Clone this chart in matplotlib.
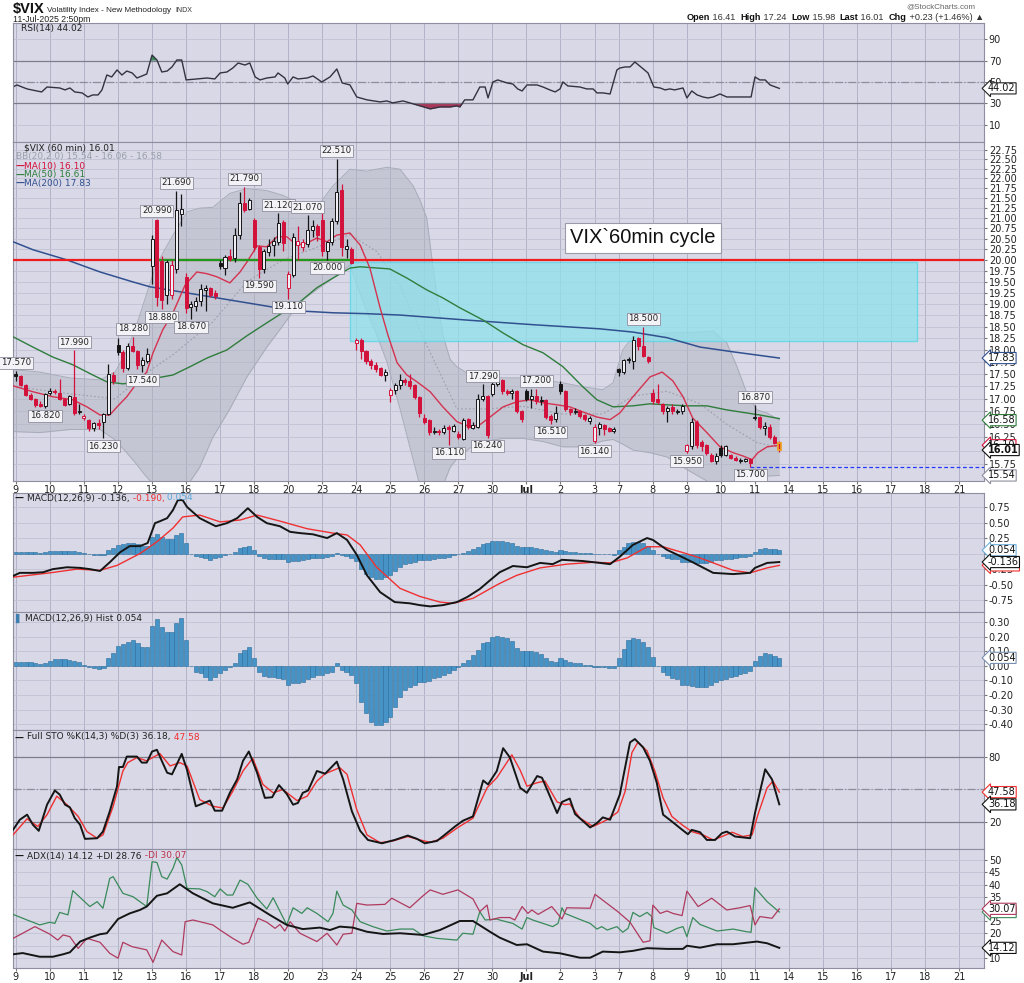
import numpy as np
import matplotlib.pyplot as plt
from matplotlib.patches import Rectangle
from matplotlib.ticker import FixedLocator, FormatStrFormatter, NullLocator

plt.rcParams['font.family'] = ['DejaVu Sans']

# ---- x axis: first hourly bar of every session ----
day_labels = ["9", "10", "11", "12", "13", "16", "17", "18", "20", "23", "24", "25", "26", "27", "30",
              "Jul", "2", "3", "7", "8", "9", "10", "11", "14", "15", "16", "17", "18", "21"]
day_start = [0, 7, 14, 21, 28, 35, 42, 49, 56, 63, 70, 77, 84, 91, 98,
             105, 112, 119, 124, 131, 138, 145, 152, 159, 166, 173, 180, 187, 194]

# ---- 60 min candles, 9-Jun .. 11-Jul ----
opens = [17.50, 17.45, 17.28, 17.08, 17.00, 16.90, 16.85,
         17.12, 17.16, 17.12, 17.00, 16.90, 17.03, 16.74,
         16.62, 16.58, 16.42, 16.52, 16.55, 16.70, 17.48,
         18.10, 17.95, 17.62, 18.08, 17.98, 17.68, 17.76,
         19.85, 20.95, 19.98, 19.20, 19.20, 19.80, 21.10,
         19.60, 18.93, 18.95, 19.05, 19.30, 19.35, 19.25,
         19.92, 19.82, 20.10, 20.05, 20.60, 21.38, 21.22,
         20.95, 20.30, 19.78, 20.18, 20.35, 20.42, 20.90,
         19.35, 19.66, 20.35, 20.30, 20.38, 20.72, 20.80,
         20.95, 20.20, 20.43, 20.92, 21.70, 20.25, 20.25,
         18.15, 18.22, 17.97, 17.77, 17.68, 17.62, 17.47,
         17.08, 17.18, 17.27, 17.38, 17.36, 17.28, 17.03,
         16.63, 16.58, 16.36, 16.38, 16.36, 16.45, 16.38,
         16.32, 16.22, 16.60, 16.43, 16.45, 17.00, 17.05,
         17.10, 17.30, 17.38, 17.16, 17.12, 17.15, 16.75,
         17.15, 17.00, 17.05, 16.95, 16.98, 16.66, 16.60,
         17.30, 17.15, 16.80, 16.74, 16.75, 16.68, 16.56,
         16.18, 16.42, 16.48, 16.43, 16.37,
         17.60, 17.55, 17.82, 17.76, 18.25, 18.08, 17.85,
         17.12, 17.00, 16.90, 16.75, 16.84, 16.74, 16.75,
         16.00, 16.08, 16.55, 16.17, 16.10, 15.92, 15.80,
         16.05, 15.92, 15.92, 15.87, 15.80, 15.80, 15.84,
         16.62, 16.64, 16.43, 16.45, 16.26, 16.15]
highs = [17.57, 17.48, 17.30, 17.12, 17.02, 16.95, 17.12,
         17.22, 17.20, 17.40, 17.02, 17.08, 17.99, 16.90,
         16.70, 16.60, 16.55, 16.60, 16.72, 17.70, 17.55,
         18.25, 18.00, 18.15, 18.28, 18.00, 17.85, 18.05,
         20.60, 20.99, 20.10, 20.00, 20.00, 21.69, 21.60,
         19.70, 19.05, 19.15, 19.45, 19.42, 19.38, 19.30,
         20.00, 20.12, 20.25, 20.75, 21.65, 21.79, 21.50,
         21.00, 20.35, 20.25, 20.50, 20.55, 21.12, 20.95,
         19.75, 20.65, 20.80, 20.50, 21.07, 20.95, 20.85,
         21.15, 20.45, 21.00, 22.51, 21.85, 20.50, 20.30,
         18.25, 18.25, 18.00, 17.80, 17.75, 17.65, 17.60,
         17.22, 17.32, 17.50, 17.42, 17.50, 17.30, 17.05,
         16.70, 16.60, 16.45, 16.40, 16.48, 16.48, 16.50,
         16.38, 16.62, 16.62, 16.55, 17.10, 17.29, 17.08,
         17.35, 17.45, 17.40, 17.20, 17.20, 17.18, 16.78,
         17.20, 17.20, 17.20, 17.05, 17.00, 16.70, 16.85,
         17.35, 17.18, 16.82, 16.82, 16.78, 16.70, 16.66,
         16.50, 16.55, 16.50, 16.45, 16.45,
         17.62, 17.80, 17.85, 18.30, 18.28, 18.50, 17.88,
         17.20, 17.30, 16.92, 16.85, 16.90, 16.80, 16.90,
         16.12, 16.62, 16.58, 16.20, 16.12, 15.95, 15.95,
         16.10, 16.10, 15.94, 15.90, 15.86, 15.86, 15.86,
         16.87, 16.66, 16.55, 16.50, 16.30, 16.18]
lows = [17.35, 17.25, 17.05, 16.97, 16.83, 16.84, 16.82,
        17.08, 17.10, 16.98, 16.85, 16.88, 16.68, 16.70,
        16.58, 16.38, 16.38, 16.40, 16.23, 16.68, 17.30,
        17.90, 17.55, 17.58, 17.95, 17.60, 17.54, 17.72,
        19.45, 18.95, 18.88, 19.00, 19.10, 19.70, 20.80,
        18.80, 18.67, 18.85, 18.95, 18.85, 19.15, 19.10,
        19.80, 19.65, 19.98, 19.95, 20.50, 21.15, 21.20,
        20.20, 19.59, 19.70, 20.10, 20.10, 20.35, 20.20,
        19.11, 19.60, 20.00, 20.20, 20.30, 20.55, 20.45,
        20.10, 20.00, 20.35, 20.85, 20.10, 20.05, 19.90,
        18.00, 17.80, 17.70, 17.60, 17.55, 17.45, 17.35,
        16.93, 17.10, 17.20, 17.28, 17.20, 17.00, 16.65,
        16.50, 16.30, 16.32, 16.30, 16.32, 16.11, 16.35,
        16.22, 16.20, 16.40, 16.40, 16.42, 16.95, 16.24,
        17.05, 17.25, 17.10, 17.08, 17.00, 16.72, 16.55,
        16.95, 16.82, 16.90, 16.88, 16.60, 16.51, 16.55,
        17.10, 16.75, 16.68, 16.70, 16.62, 16.56, 16.50,
        16.14, 16.30, 16.30, 16.35, 16.33,
        17.45, 17.50, 17.72, 17.60, 18.00, 17.85, 17.72,
        16.90, 16.90, 16.70, 16.55, 16.70, 16.70, 16.70,
        15.95, 16.02, 16.05, 16.00, 15.92, 15.78, 15.75,
        15.88, 15.90, 15.84, 15.80, 15.77, 15.78, 15.70,
        16.58, 16.40, 16.30, 16.22, 16.12, 15.98]
closes = [17.45, 17.28, 17.08, 17.00, 16.87, 16.86, 17.10,
          17.16, 17.14, 17.00, 16.88, 17.05, 16.72, 16.76,
          16.66, 16.42, 16.52, 16.48, 16.70, 17.50, 17.35,
          17.95, 17.62, 18.08, 17.98, 17.68, 17.78, 17.92,
          20.50, 19.15, 19.08, 19.95, 19.88, 21.20, 21.22,
          18.90, 18.99, 19.07, 19.32, 19.35, 19.20, 19.17,
          19.86, 20.08, 20.02, 20.60, 21.37, 21.20, 21.45,
          20.30, 19.78, 20.20, 20.32, 20.45, 20.88, 20.40,
          19.68, 20.55, 20.45, 20.42, 20.72, 20.82, 20.60,
          20.20, 20.42, 20.92, 21.66, 20.30, 20.32, 19.93,
          18.20, 17.97, 17.77, 17.68, 17.60, 17.48, 17.55,
          17.18, 17.27, 17.37, 17.33, 17.25, 17.03, 16.72,
          16.55, 16.35, 16.38, 16.36, 16.43, 16.40, 16.46,
          16.26, 16.58, 16.45, 16.48, 17.00, 17.05, 16.30,
          17.30, 17.38, 17.15, 17.12, 17.15, 16.75, 16.60,
          17.00, 17.06, 16.95, 16.98, 16.65, 16.58, 16.72,
          17.15, 16.80, 16.73, 16.76, 16.67, 16.60, 16.63,
          16.45, 16.50, 16.40, 16.37, 16.41,
          17.55, 17.78, 17.79, 18.20, 18.08, 17.88, 17.76,
          16.95, 16.93, 16.75, 16.82, 16.75, 16.76, 16.85,
          16.10, 16.55, 16.10, 16.08, 15.96, 15.80, 15.90,
          15.92, 16.08, 15.87, 15.82, 15.83, 15.84, 15.76,
          16.64, 16.44, 16.46, 16.25, 16.15, 16.01]

# labelled swing highs / lows (bar numbers)
hi_bars = [0, 12, 24, 29, 33, 47, 54, 60, 66, 96, 107, 129, 152]
lo_bars = [6, 18, 26, 30, 36, 50, 56, 64, 89, 97, 110, 119, 138, 151]

# ---- overlays (bar number, value) ----
ma10_t = [-0.6, 3.5, 7.6, 11.7, 14.6, 17.3, 19.3, 20.8, 22.8, 24.9, 26.9, 28.2, 30.2, 32.3, 34.8,
          37.2, 39.3, 41.3, 44.0, 46.1, 47.5, 49.6, 51.6, 53.7, 55.7, 57.8, 59.9, 61.9, 64.0, 66.0,
          68.7, 70.8, 72.8, 74.9, 76.5, 78.4, 80.4, 82.5, 85.2, 87.8, 90.7, 93.4, 95.4, 97.5, 100.2,
          103.0, 105.7, 108.4, 111.3, 113.9, 116.6, 119.5, 122.2, 124.2, 126.9, 130.4, 132.9, 135.1,
          137.2, 139.2, 142.1, 144.8, 147.5, 149.5, 151.4, 152.6, 154.5, 157.0]
ma10_v = [17.26, 17.14, 17.04, 16.98, 16.84, 16.68, 16.68, 16.84, 17.04, 17.32, 17.54, 17.94, 18.43,
          18.80, 19.42, 19.72, 19.68, 19.61, 19.47, 19.72, 19.95, 20.33, 20.31, 20.55, 20.55, 20.35,
          20.40, 20.52, 20.43, 20.59, 20.64, 20.35, 19.81, 18.91, 18.32, 17.73, 17.48, 17.34, 17.14,
          16.84, 16.55, 16.45, 16.49, 16.64, 16.84, 16.94, 16.98, 16.92, 16.88, 16.84, 16.74, 16.64,
          16.59, 16.72, 17.04, 17.44, 17.54, 17.36, 17.04, 16.62, 16.34, 16.07, 15.96, 15.90, 15.83,
          15.96, 16.07, 16.10]
ma50_t = [-0.6, 3.5, 7.6, 11.7, 15.8, 18.7, 22.0, 25.5, 29.0, 32.3, 35.8, 39.3, 43.4, 47.5, 51.6,
          55.7, 58.4, 61.9, 65.2, 68.7, 70.8, 76.9, 80.4, 84.5, 87.8, 91.3, 96.1, 100.2, 104.3, 108.4,
          112.5, 116.6, 119.5, 122.8, 126.9, 130.4, 133.9, 138.0, 142.1, 146.2, 150.3, 153.0, 157.0]
ma50_v = [18.28, 18.06, 17.85, 17.69, 17.48, 17.34, 17.30, 17.34, 17.42, 17.48, 17.65, 17.83, 18.00,
          18.30, 18.58, 18.86, 19.04, 19.36, 19.58, 19.81, 19.84, 19.79, 19.58, 19.31, 19.13, 18.91,
          18.64, 18.36, 18.11, 17.94, 17.65, 17.24, 16.98, 16.84, 16.86, 16.90, 16.88, 16.86, 16.86,
          16.78, 16.72, 16.68, 16.61]
ma200_t = [-0.6, 3.5, 10.5, 17.3, 24.1, 27.6, 53.7, 58.4, 65.2, 72.2, 79.0, 92.8, 106.3, 120.1,
           126.9, 133.9, 140.7, 147.5, 157.0]
ma200_v = [20.43, 20.24, 20.00, 19.72, 19.49, 19.38, 18.91, 18.84, 18.80, 18.78, 18.75, 18.64, 18.54,
           18.45, 18.38, 18.26, 18.06, 17.96, 17.83]
bb_t = [-0.6, 4.9, 11.1, 17.3, 20.4, 22.4, 24.5, 26.5, 28.6, 30.6, 32.3, 35.2, 37.8, 40.5, 44.0,
        47.5, 51.6, 54.9, 58.4, 61.9, 65.2, 68.7, 70.1, 72.2, 74.2, 76.3, 79.0, 81.7, 83.1, 84.5,
        85.8, 87.8, 89.3, 90.7, 93.4, 96.9, 100.2, 104.3, 108.4, 112.5, 116.6, 120.7, 122.8, 124.8,
        126.9, 130.4, 133.9, 137.2, 140.7, 143.4, 146.2, 148.3, 150.3, 152.4, 154.5, 157.0]
bb_up = [17.59, 17.54, 17.42, 17.38, 17.54, 17.90, 18.43, 19.09, 19.81, 20.24, 20.59, 21.16, 21.25,
         21.27, 21.62, 21.74, 21.69, 21.57, 21.37, 21.27, 21.81, 22.24, 22.22, 22.19, 22.24, 22.29,
         22.24, 21.81, 21.45, 21.00, 19.81, 18.32, 17.80, 17.65, 17.48, 17.44, 17.42, 17.42, 17.38,
         17.32, 17.24, 17.18, 17.32, 18.00, 18.28, 18.33, 18.36, 18.37, 18.38, 18.40, 18.15, 17.65,
         17.12, 16.78, 16.72, 16.58]
bb_lo = [16.36, 16.34, 16.40, 16.40, 16.20, 16.00, 15.78, 15.55, 15.35, 15.35, 15.35, 15.35, 15.69,
         16.25, 16.80, 17.44, 18.06, 18.52, 19.04, 19.32, 19.58, 19.88, 19.42, 18.82, 18.32, 17.75,
         16.80, 15.83, 15.35, 15.35, 15.35, 15.35, 15.69, 15.85, 16.05, 16.18, 16.23, 16.23, 16.17,
         16.07, 16.07, 16.18, 16.21, 16.12, 16.01, 15.96, 15.88, 15.69, 15.51, 15.38, 15.38, 15.42,
         15.48, 15.51, 15.53, 15.54]
bb_mid_t = [-0.6, 11.1, 20.4, 24.1, 26.5, 32.3, 40.5, 47.5, 54.9, 61.9, 68.7, 74.2, 79.0, 84.5,
            90.7, 96.9, 104.3, 112.5, 120.7, 126.9, 133.9, 140.7, 146.2, 152.4, 157.0]
bb_mid_v = [17.25, 17.10, 17.00, 17.30, 17.50, 17.90, 18.60, 19.50, 20.00, 20.30, 20.60, 20.20,
            19.40, 18.10, 16.80, 16.80, 16.85, 16.70, 16.70, 17.05, 17.15, 16.90, 16.50, 16.15, 16.06]

# cycle box and reference levels
zone_start, zone_end = 68.7, 185.3
zone_low, zone_high = 18.19, 19.95
level_20 = 20.00
support_start, support_end = 28, 69
recent_low, recent_low_bar = 15.70, 151
note_bar, note_price = 114, 20.52

# ---- RSI(14) ----
rsi_t = [-0.6, 0.2, 2.3, 4.3, 5.3, 6.4, 9.0, 10.1, 11.1, 12.1, 13.6, 14.8, 15.8, 16.9, 17.7, 18.7,
         19.7, 20.8, 21.8, 22.8, 23.9, 24.9, 26.9, 28.0, 29.0, 30.0, 31.1, 32.1, 33.1, 34.1, 35.0,
         37.2, 39.3, 40.9, 42.0, 43.4, 44.6, 45.7, 47.1, 48.1, 49.2, 50.2, 51.6, 53.3, 53.9, 55.3,
         55.9, 57.0, 58.0, 59.9, 61.1, 62.9, 64.6, 66.0, 67.1, 68.7, 70.1, 72.2, 74.9, 76.3, 77.5,
         79.6, 81.0, 83.1, 85.2, 87.2, 89.3, 90.7, 91.3, 92.3, 94.0, 95.4, 96.5, 97.1, 98.1, 99.1,
         101.0, 102.2, 103.2, 104.1, 105.1, 107.2, 108.4, 109.8, 110.9, 111.9, 112.5, 113.5, 116.0,
         117.4, 118.7, 119.5, 120.7, 122.2, 123.6, 124.2, 125.3, 126.3, 127.3, 128.8, 130.0, 131.2,
         132.5, 133.5, 134.5, 135.5, 137.2, 138.0, 139.0, 140.1, 141.3, 142.3, 143.4, 144.8, 146.2,
         147.5, 148.9, 151.2, 152.0, 153.0, 154.1, 155.1, 157.0]
rsi_v = [45.3, 47.2, 43.5, 41.6, 40.7, 45.3, 44.4, 42.6, 44.4, 40.7, 39.8, 36.0, 37.9, 37.9, 42.6,
         56.5, 54.7, 61.2, 56.5, 60.2, 58.4, 53.7, 57.4, 75.1, 70.5, 59.3, 60.2, 64.0, 70.5, 70.5,
         51.9, 52.8, 53.7, 52.8, 58.4, 59.3, 63.0, 67.7, 65.8, 67.7, 54.7, 51.9, 53.7, 54.7, 58.4,
         53.7, 48.1, 54.7, 52.8, 53.7, 55.6, 50.0, 54.7, 62.1, 49.1, 47.2, 36.0, 33.3, 31.4, 32.3,
         30.5, 32.3, 30.5, 27.7, 24.9, 26.7, 26.7, 27.7, 26.7, 33.3, 33.3, 45.3, 45.3, 35.1, 50.0,
         51.9, 49.1, 48.1, 43.5, 41.6, 47.2, 47.2, 45.3, 42.6, 40.7, 43.5, 50.0, 46.3, 45.3, 43.5,
         43.5, 39.8, 39.8, 38.8, 61.2, 63.0, 64.0, 64.0, 68.6, 63.0, 58.4, 45.3, 44.4, 42.6, 43.5,
         42.6, 44.4, 35.1, 41.6, 37.9, 36.0, 35.1, 36.0, 38.8, 36.0, 36.0, 36.0, 36.0, 54.7, 51.9,
         51.9, 47.2, 44.02]

# ---- MACD(12,26,9) ----
macd_t = [-0.6, 0.8, 3.5, 5.6, 7.6, 10.5, 13.2, 15.2, 17.3, 19.3, 21.4, 23.4, 25.5, 27.1, 28.6, 29.6,
          31.1, 32.3, 33.3, 34.3, 35.2, 37.8, 41.1, 43.4, 45.5, 47.7, 49.6, 51.6, 54.3, 56.4, 58.4,
          61.1, 64.0, 66.0, 68.1, 70.1, 72.2, 74.9, 77.9, 81.0, 83.1, 85.2, 87.8, 90.7, 92.8, 95.4,
          97.5, 99.5, 102.2, 105.1, 107.8, 110.4, 112.3, 116.6, 120.1, 122.2, 124.2, 126.9, 129.8,
          131.0, 133.9, 136.6, 139.2, 143.4, 147.5, 151.0, 152.0, 154.5, 157.0]
macd_v = [-0.36, -0.31, -0.31, -0.30, -0.25, -0.22, -0.23, -0.25, -0.28, -0.14, 0.02, 0.12, 0.12,
          0.17, 0.49, 0.52, 0.57, 0.70, 0.86, 0.86, 0.75, 0.57, 0.44, 0.49, 0.57, 0.73, 0.59, 0.49,
          0.44, 0.35, 0.33, 0.31, 0.25, 0.33, 0.22, -0.02, -0.35, -0.62, -0.78, -0.80, -0.83, -0.85,
          -0.83, -0.78, -0.70, -0.57, -0.43, -0.30, -0.20, -0.22, -0.15, -0.17, -0.10, -0.12, -0.15,
          -0.17, -0.05, 0.14, 0.25, 0.22, 0.06, -0.04, -0.14, -0.31, -0.33, -0.31, -0.23, -0.15,
          -0.136]
signal_t = [-0.6, 7.0, 12.5, 17.3, 20.8, 25.5, 29.0, 32.3, 34.3, 37.8, 42.0, 46.1, 49.6, 54.9,
            59.9, 65.2, 68.1, 70.8, 74.2, 79.0, 83.1, 87.2, 89.9, 94.0, 98.1, 99.5, 103.0, 107.8,
            113.3, 118.7, 122.2, 125.7, 129.8, 133.1, 137.0, 140.7, 147.5, 151.0, 154.5, 157.0]
signal_v = [-0.38, -0.31, -0.25, -0.27, -0.19, 0.00, 0.19, 0.41, 0.59, 0.62, 0.51, 0.54, 0.62, 0.51,
            0.40, 0.33, 0.30, 0.14, -0.22, -0.56, -0.69, -0.78, -0.80, -0.72, -0.54, -0.48, -0.35,
            -0.23, -0.17, -0.14, -0.15, -0.07, 0.11, 0.11, 0.02, -0.07, -0.27, -0.31, -0.23, -0.19]
hist = [0.023, 0.025, 0.025, 0.023, 0.020, 0.014, 0.020,
        0.034, 0.046, 0.046, 0.043, 0.039, 0.034, 0.023,
        0.005, -0.007, -0.016, -0.023, -0.016, 0.050, 0.085,
        0.135, 0.149, 0.165, 0.176, 0.153, 0.130, 0.126,
        0.272, 0.318, 0.268, 0.233, 0.233, 0.295, 0.330,
        0.176, 0.000, -0.041, -0.053, -0.076, -0.098, -0.076,
        -0.048, -0.030, -0.012, 0.021, 0.085, 0.108, 0.126,
        0.055, -0.041, -0.071, -0.080, -0.080, -0.087, -0.094,
        -0.133, -0.121, -0.117, -0.110, -0.094, -0.076, -0.064,
        -0.064, -0.053, -0.041, 0.016, -0.030, -0.041, -0.064,
        -0.121, -0.247, -0.327, -0.384, -0.407, -0.407, -0.384,
        -0.350, -0.281, -0.213, -0.167, -0.144, -0.133, -0.110,
        -0.110, -0.103, -0.087, -0.076, -0.064, -0.048, -0.030,
        -0.007, 0.016, 0.039, 0.073, 0.108, 0.153, 0.165,
        0.199, 0.204, 0.195, 0.188, 0.170, 0.120, 0.100,
        0.100, 0.100, 0.092, 0.080, 0.050, 0.034, 0.027,
        0.050, 0.039, 0.027, 0.021, 0.016, 0.007, 0.002,
        -0.009, -0.011, -0.011, -0.014, -0.018,
        0.055, 0.112, 0.176, 0.188, 0.181, 0.165, 0.130,
        0.057, -0.002, -0.041, -0.064, -0.087, -0.089, -0.133,
        -0.133, -0.140, -0.144, -0.144, -0.144, -0.135, -0.110,
        -0.098, -0.089, -0.080, -0.069, -0.057, -0.048, -0.039,
        0.030, 0.069, 0.085, 0.078, 0.069, 0.054]

# ---- Full STO %K(14,3) %D(3) ----
stok_t = [-0.6, 0.8, 2.3, 3.5, 4.7, 6.4, 8.0, 9.0, 10.1, 11.1, 12.1, 13.2, 14.2, 16.7, 17.9, 19.3,
          20.8, 21.2, 22.0, 22.8, 24.9, 25.9, 26.9, 28.0, 29.0, 30.0, 31.1, 32.1, 34.1, 35.2, 37.0,
          39.9, 40.9, 42.4, 44.0, 45.5, 46.7, 47.9, 49.6, 51.2, 52.7, 54.1, 55.7, 57.0, 58.0, 59.0,
          60.1, 61.9, 63.6, 66.0, 67.3, 69.1, 70.8, 72.4, 75.3, 77.9, 80.6, 82.5, 84.1, 86.6, 88.6,
          90.3, 91.9, 94.0, 96.1, 97.1, 98.9, 100.2, 101.6, 103.7, 105.1, 107.2, 108.2, 111.3, 112.3,
          113.9, 115.0, 118.1, 119.5, 120.7, 122.2, 124.2, 126.3, 127.3, 129.0, 130.4, 131.8, 133.1,
          134.9, 136.6, 138.2, 139.0, 140.7, 142.1, 143.8, 145.2, 146.2, 147.9, 151.0, 152.0, 154.1,
          155.5, 157.0]
stok_v = [12.5, 21.9, 26.6, 17.2, 11.6, 35.9, 49.1, 45.3, 35.9, 33.4, 23.4, 17.2, 4.1, 4.7, 10.9,
          29.7, 53.1, 70.9, 70.9, 80.6, 80.6, 75.0, 75.0, 85.3, 86.9, 76.6, 65.6, 64.1, 83.1, 68.1,
          34.4, 39.7, 30.3, 30.3, 46.9, 59.4, 76.6, 85.3, 65.6, 42.2, 42.8, 54.1, 45.9, 35.9, 37.5,
          46.9, 49.1, 67.2, 64.7, 75.9, 59.4, 29.7, 11.6, 3.1, 0.0, 3.1, 7.2, 4.1, 0.0, 2.2, 9.4,
          15.6, 20.9, 25.0, 58.4, 54.7, 67.2, 88.4, 79.7, 51.6, 46.9, 62.5, 60.9, 28.1, 38.4, 41.6,
          27.2, 14.7, 18.8, 24.1, 21.9, 45.3, 93.8, 96.9, 89.1, 76.6, 56.3, 26.6, 20.3, 14.1, 8.4,
          12.5, 10.3, 3.1, 3.1, 9.4, 10.9, 6.3, 4.7, 28.1, 68.8, 59.4, 36.18]
stod_t = [-0.6, 2.3, 4.5, 6.4, 8.4, 10.5, 12.8, 14.6, 16.7, 17.9, 20.0, 22.0, 23.0, 24.9, 26.9,
          29.6, 31.7, 33.7, 35.2, 37.8, 40.5, 42.6, 44.6, 46.7, 48.7, 50.8, 52.9, 54.9, 57.8, 59.9,
          61.9, 63.6, 66.6, 68.1, 70.1, 72.2, 74.9, 77.5, 80.6, 83.1, 85.2, 87.8, 90.7, 94.0, 96.9,
          98.9, 102.0, 103.7, 105.1, 107.2, 108.8, 111.3, 112.9, 113.9, 116.0, 118.7, 121.6, 123.8,
          125.3, 126.7, 127.9, 129.8, 131.4, 133.1, 134.9, 137.0, 139.0, 141.3, 143.4, 145.2, 147.3,
          149.5, 151.4, 152.6, 154.5, 155.7, 157.0]
stod_v = [7.8, 22.8, 15.6, 26.6, 43.8, 35.9, 25.0, 10.9, 4.7, 7.8, 34.4, 67.2, 75.0, 79.7, 76.6,
          83.4, 71.9, 75.0, 71.9, 40.6, 34.4, 32.8, 48.4, 67.2, 79.1, 54.7, 46.9, 50.0, 39.7, 43.8,
          57.8, 64.7, 70.3, 64.1, 31.3, 7.8, 0.6, 2.2, 6.3, 3.1, 0.9, 4.7, 14.1, 23.4, 51.6, 60.9,
          82.2, 68.0, 53.1, 56.3, 57.8, 38.4, 35.9, 36.6, 23.4, 15.6, 21.9, 29.1, 48.4, 84.4, 93.8,
          85.9, 67.2, 42.2, 25.0, 17.2, 10.9, 7.8, 3.1, 6.3, 10.3, 6.3, 7.8, 26.6, 51.6, 57.8, 47.58]

# ---- ADX(14) ----
adx_t = [-0.6, 1.4, 4.9, 7.6, 9.7, 11.1, 13.2, 15.2, 17.3, 18.7, 21.0, 23.4, 25.5, 26.9, 29.0,
         31.1, 33.7, 36.4, 40.5, 44.6, 48.1, 52.2, 55.7, 59.0, 62.5, 64.6, 66.6, 69.3, 72.2, 75.5,
         79.0, 83.7, 87.2, 91.3, 94.0, 97.5, 99.5, 103.0, 105.1, 108.4, 111.9, 116.0, 118.1, 120.7,
         124.2, 126.9, 129.8, 133.9, 137.2, 138.0, 140.7, 144.2, 147.5, 152.4, 154.5, 157.0]
adx_v = [11.5, 12.0, 10.5, 10.5, 11.5, 12.3, 16.7, 18.3, 19.7, 20.1, 25.9, 28.2, 29.6, 31.0, 35.4,
         36.4, 40.1, 36.4, 32.3, 30.5, 32.7, 27.6, 23.5, 21.8, 22.4, 21.4, 22.8, 22.4, 20.7, 19.8,
         20.1, 19.4, 21.4, 25.1, 25.1, 20.7, 18.3, 15.3, 15.6, 12.6, 11.9, 10.1, 10.1, 12.6, 12.3,
         12.9, 14.0, 13.7, 13.7, 15.0, 14.2, 15.6, 15.6, 16.7, 16.0, 14.12]
pdi_t = [-0.6, 2.3, 4.9, 7.0, 8.0, 9.0, 10.7, 11.7, 15.2, 16.7, 17.9, 19.3, 20.0, 22.0, 24.1, 26.9,
         28.0, 29.0, 30.0, 31.1, 32.3, 33.1, 34.1, 35.2, 37.8, 39.3, 40.9, 42.0, 43.4, 44.6, 46.1,
         47.7, 49.6, 51.6, 52.9, 55.7, 57.0, 58.8, 59.9, 61.9, 64.2, 65.2, 66.0, 67.3, 69.1, 70.8,
         73.4, 76.3, 79.0, 81.7, 83.7, 86.6, 90.7, 91.9, 94.0, 95.4, 96.5, 98.9, 99.5, 102.2, 104.1,
         105.1, 106.3, 110.4, 111.5, 112.3, 112.9, 115.4, 118.1, 119.5, 120.5, 121.6, 123.6, 124.8,
         125.9, 126.9, 128.3, 129.8, 130.8, 131.2, 133.9, 136.0, 137.2, 138.0, 139.2, 140.7, 144.2,
         147.5, 150.3, 151.2, 152.0, 154.5, 157.0]
pdi_v = [27.8, 25.5, 23.5, 24.6, 24.1, 28.6, 27.6, 37.5, 31.0, 33.0, 30.3, 42.5, 43.2, 36.4, 35.0,
         31.0, 49.3, 49.0, 43.2, 42.2, 46.6, 51.0, 48.0, 38.4, 38.2, 37.1, 35.0, 38.2, 35.7, 35.7,
         41.8, 40.1, 34.4, 30.0, 34.6, 23.5, 30.5, 28.2, 30.5, 28.2, 24.8, 28.2, 37.3, 31.6, 29.6,
         24.8, 22.8, 21.0, 21.8, 21.8, 19.1, 18.0, 17.3, 20.1, 19.7, 28.9, 25.5, 25.9, 25.5, 24.1,
         21.8, 26.5, 25.5, 22.8, 24.1, 30.5, 28.2, 26.2, 24.1, 21.8, 22.8, 21.4, 22.8, 20.5, 22.1,
         28.6, 26.9, 28.6, 26.9, 22.4, 20.1, 22.1, 22.8, 18.7, 26.5, 23.7, 21.0, 21.8, 20.7, 20.5,
         38.7, 33.0, 28.76]
mdi_t = [-0.6, 1.4, 3.9, 7.0, 8.6, 9.7, 11.1, 12.8, 14.6, 17.3, 19.3, 21.0, 22.0, 23.9, 26.9, 28.2,
         30.0, 32.3, 34.1, 34.8, 36.4, 40.5, 42.0, 44.6, 46.7, 47.9, 49.8, 51.6, 53.3, 54.3, 55.3,
         56.4, 58.4, 61.9, 64.0, 66.0, 67.3, 69.1, 70.1, 72.2, 75.9, 77.3, 81.0, 83.5, 85.2, 87.8,
         90.9, 94.0, 95.4, 96.9, 97.5, 99.5, 101.6, 102.6, 104.1, 105.3, 106.1, 107.4, 110.2, 112.3,
         113.3, 118.1, 119.1, 123.8, 126.3, 129.0, 130.4, 131.0, 132.5, 133.9, 135.1, 137.0, 138.0,
         140.3, 143.1, 146.2, 148.9, 151.0, 152.0, 153.0, 155.5, 157.0]
mdi_v = [18.0, 20.1, 22.8, 19.7, 17.3, 19.4, 18.7, 13.9, 18.0, 16.4, 11.9, 9.9, 16.4, 14.6, 13.3,
         8.2, 17.3, 12.6, 11.2, 24.8, 25.5, 23.5, 21.4, 18.0, 15.6, 16.4, 26.2, 24.6, 22.1, 23.7,
         21.0, 24.8, 20.1, 16.7, 20.1, 15.3, 19.7, 20.1, 32.3, 31.6, 31.9, 34.4, 30.5, 35.0, 37.8,
         36.0, 37.8, 34.1, 28.9, 31.6, 25.5, 26.5, 26.5, 25.5, 31.0, 28.2, 29.6, 27.8, 31.0, 25.9,
         30.5, 30.3, 36.0, 28.9, 24.6, 16.4, 17.0, 31.6, 28.2, 29.2, 28.2, 27.3, 37.3, 31.0, 34.4,
         29.6, 30.5, 31.4, 23.5, 26.9, 26.2, 30.07]

# ---------------------------------------------------------------------------
BG = '#d8d8e7'
RED = '#d3123c'
GREEN = '#2f7d3c'
NAVY = '#31508f'
FW, FH = 1024, 983
X0, X1 = 13, 984

fig = plt.figure(figsize=(10.24, 9.83), dpi=100)


def panel(top, bottom):
    ax = fig.add_axes([X0 / FW, 1 - bottom / FH, (X1 - X0) / FW, (bottom - top) / FH])
    ax.set_facecolor(BG)
    ax.set_xlim(-0.6, 199.1)
    for s in ax.spines.values():
        s.set_color('#8e8ea0')
        s.set_linewidth(0.8)
    ax.yaxis.tick_right()
    ax.tick_params(axis='y', which='both', length=2, pad=1.5, labelsize=7,
                   color='#777', labelcolor='#222')
    ax.set_xticks(day_start)
    ax.tick_params(axis='x', length=0, labelbottom=False)
    ax.grid(axis='x', color='#b2b2c6', lw=0.7)
    ax.grid(axis='y', color='#c2c2d4', lw=0.6)
    ax.set_axisbelow(True)
    return ax


def date_labels(ax):
    ax.set_xticklabels(day_labels)
    ax.tick_params(axis='x', labelbottom=True, length=2, pad=1, labelsize=7,
                   color='#777', labelcolor='#222')
    for lab in ax.get_xticklabels():
        if lab.get_text() == 'Jul':
            lab.set_fontweight('bold')


def tag(ax, v, txt, ec, bold=False):
    ax.text(1.004, v, txt, transform=ax.get_yaxis_transform(), ha='left', va='center',
            fontsize=7, fontweight='bold' if bold else 'normal', color='#111', clip_on=False,
            zorder=30, bbox=dict(boxstyle='larrow,pad=0.06', fc='white', ec=ec, lw=0.8))


rsi_ax = panel(23, 142)
px_ax = panel(142, 481)
macd_ax = panel(493, 612)
hist_ax = panel(612, 730)
sto_ax = panel(730, 849)
adx_ax = panel(849, 968)

# ---- RSI ----
rsi_ax.set_ylim(-6, 105)
rsi_ax.yaxis.set_major_locator(FixedLocator([10, 30, 50, 70, 90]))
rsi_ax.axhline(70, color='#7c7c8c', lw=0.9)
rsi_ax.axhline(30, color='#7c7c8c', lw=0.9)
rsi_ax.axhline(50, color='#8c8c9c', lw=0.9, ls='-.')
rt, rv = np.array(rsi_t), np.array(rsi_v)
rsi_ax.fill_between(rt, rv, 70, where=rv > 70, interpolate=True, color='#3a8a5a', lw=0)
rsi_ax.fill_between(rt, rv, 30, where=rv < 30, interpolate=True, color='#a8385a', lw=0)
rsi_ax.plot(rt, rv, color='#333340', lw=1.0)
tag(rsi_ax, 44.02, '44.02', '#222')

# ---- price ----
px_ax.set_yscale('log')
px_ax.set_ylim(15.44, 22.96)
px_ticks = list(np.arange(15.75, 22.76, 0.25))
px_ax.yaxis.set_major_locator(FixedLocator(px_ticks))
px_ax.yaxis.set_major_formatter(FormatStrFormatter('%.2f'))
px_ax.yaxis.set_minor_locator(NullLocator())
date_labels(px_ax)

px_ax.fill_between(bb_t, bb_lo, bb_up, color='#aeb2bd', alpha=0.45, lw=0, zorder=1)
px_ax.plot(bb_t, bb_up, color='#a8acb8', lw=0.7, zorder=1)
px_ax.plot(bb_t, bb_lo, color='#a8acb8', lw=0.7, zorder=1)
px_ax.plot(bb_mid_t, bb_mid_v, color='#9a9eaa', lw=0.8, ls=(0, (1.5, 2)), zorder=1)

px_ax.add_patch(Rectangle((zone_start, zone_low), zone_end - zone_start, zone_high - zone_low,
                          fc='#8fe3ec', ec='#56d6e6', lw=1.0, alpha=0.75, zorder=2))

px_ax.plot(ma200_t, ma200_v, color=NAVY, lw=1.1, zorder=3)
px_ax.plot(ma50_t, ma50_v, color=GREEN, lw=1.0, zorder=3)
px_ax.plot(ma10_t, ma10_v, color='#d4324f', lw=1.0, zorder=3)

px_ax.axhline(level_20, color='#ee1c1c', lw=1.6, zorder=4)
px_ax.hlines(level_20, support_start, support_end, color='#1e9a1e', lw=1.6, zorder=4)
px_ax.hlines(recent_low, recent_low_bar, 199.1, color='#2436ff', lw=0.9,
             linestyles=(0, (3, 2)), zorder=4)

o, h, l, c = map(np.array, (opens, highs, lows, closes))
idx = np.arange(len(c))
prev_c = np.r_[c[0] - 0.01, c[:-1]]
col = np.where(c < prev_c, RED, '#151515')
face = np.where(c < o, col, '#eeeef4')
body = np.maximum(np.abs(c - o), 0.012)
px_ax.vlines(idx, l, h, colors=col, lw=0.9, zorder=5)
bars = px_ax.bar(idx, body, bottom=np.minimum(o, c), width=0.62, color=face,
                 edgecolor=col, lw=0.7, zorder=6)
bars[-1].set_edgecolor('#f0a020')
bars[-1].set_linewidth(1.3)

lab_box = dict(boxstyle='square,pad=0.18', fc='#f3f3f7', ec='#8e8e9e', lw=0.6)
for i in hi_bars:
    px_ax.annotate(f'{highs[i]:.3f}', xy=(i, highs[i]), xytext=(0, 2.5), textcoords='offset points',
                   ha='center', va='bottom', fontsize=6.2, color='#222', bbox=lab_box,
                   zorder=8, annotation_clip=False)
for i in lo_bars:
    px_ax.annotate(f'{lows[i]:.3f}', xy=(i, lows[i]), xytext=(0, -2.5), textcoords='offset points',
                   ha='center', va='top', fontsize=6.2, color='#222', bbox=lab_box,
                   zorder=8, annotation_clip=False)

px_ax.text(note_bar, note_price, 'VIX`60min cycle', fontsize=14.5, family='Liberation Sans',
           va='center', ha='left', color='#111', zorder=9,
           bbox=dict(boxstyle='square,pad=0.25', fc='white', ec='#9a9aa8', lw=0.8))

tag(px_ax, 17.83, '17.83', NAVY)
tag(px_ax, 16.58, '16.58', GREEN)
tag(px_ax, 16.10, '16.10', RED)
tag(px_ax, 16.01, '16.01', '#111', bold=True)
tag(px_ax, 15.54, '15.54', '#8e8e9e')

# ---- MACD ----
macd_ax.set_ylim(-0.94, 0.975)
macd_ax.yaxis.set_major_locator(FixedLocator([-0.75, -0.5, -0.25, 0, 0.25, 0.5, 0.75]))
macd_ax.yaxis.set_major_formatter(FormatStrFormatter('%.2f'))
macd_ax.bar(idx, hist, width=0.85, color='#4693c8', edgecolor='#2b6c99', lw=0.4, zorder=2)
macd_ax.plot(signal_t, signal_v, color='#f03030', lw=1.0, zorder=3)
macd_ax.plot(macd_t, macd_v, color='#151515', lw=1.4, zorder=4)
tag(macd_ax, 0.054, '0.054', '#6fb0dc')
tag(macd_ax, -0.19, '-0.190', '#f03030')
tag(macd_ax, -0.136, '-0.136', '#111')

# ---- MACD histogram ----
hist_ax.set_ylim(-0.44, 0.368)
hist_ax.yaxis.set_major_locator(FixedLocator([-0.4, -0.3, -0.2, -0.1, 0, 0.1, 0.2, 0.3]))
hist_ax.yaxis.set_major_formatter(FormatStrFormatter('%.2f'))
hist_ax.bar(idx, hist, width=0.85, color='#4693c8', edgecolor='#2b6c99', lw=0.4, zorder=2)
tag(hist_ax, 0.054, '0.054', '#7a90b0')

# ---- stochastics ----
sto_ax.set_ylim(-5.3, 105.3)
sto_ax.yaxis.set_major_locator(FixedLocator([20, 50, 80]))
sto_ax.axhline(80, color='#7c7c8c', lw=0.9)
sto_ax.axhline(20, color='#7c7c8c', lw=0.9)
sto_ax.axhline(50, color='#8c8c9c', lw=0.9, ls='-.')
sto_ax.plot(stod_t, stod_v, color='#f03030', lw=1.0, zorder=3)
sto_ax.plot(stok_t, stok_v, color='#151515', lw=1.4, zorder=4)
tag(sto_ax, 47.58, '47.58', '#f03030')
tag(sto_ax, 36.18, '36.18', '#111')

# ---- ADX ----
adx_ax.set_ylim(5.9, 54.5)
adx_ax.yaxis.set_major_locator(FixedLocator([10, 15, 20, 25, 30, 35, 40, 45, 50]))
adx_ax.plot(pdi_t, pdi_v, color='#3a8a5a', lw=0.9, zorder=3)
adx_ax.plot(mdi_t, mdi_v, color='#b03a5e', lw=0.9, zorder=3)
adx_ax.plot(adx_t, adx_v, color='#151515', lw=1.4, zorder=4)
date_labels(adx_ax)
tag(adx_ax, 28.76, '28.76', '#3a8a5a')
tag(adx_ax, 30.07, '30.07', '#b03a5e')
tag(adx_ax, 14.12, '14.12', '#111')

# ---- texts in pixel space ----
ov = fig.add_axes([0, 0, 1, 1], zorder=50)
ov.set_xlim(0, FW)
ov.set_ylim(FH, 0)
ov.axis('off')


def chain(x, y, parts, size=6.5, family='DejaVu Sans', right=False):
    prev = None
    seq = parts[::-1] if right else parts
    for part in seq:
        txt, colr, wt = part[:3]
        sz = part[3] if len(part) > 3 else size
        kw = dict(fontsize=sz, color=colr, fontweight=wt, family=family, va='center')
        if prev is None:
            prev = ov.text(x, y, txt, ha='right' if right else 'left', **kw)
        else:
            prev = ov.annotate(txt, xy=(0, 0.5) if right else (1, 0.5), xycoords=prev,
                               ha='right' if right else 'left', **kw)
    return prev


chain(13, 9, [('$VIX', '#111', 'bold')], size=10.5, family='Liberation Sans')
chain(47, 10, [('Volatility Index - New Methodology  ', '#222', 'normal', 5.9),
               ('INDX', '#333', 'normal', 5.0)], family='Liberation Sans')
chain(13, 19, [('11-Jul-2025 2:50pm', '#222', 'normal')], size=6.3, family='Liberation Sans')
ov.text(975, 7, '@StockCharts.com', fontsize=5.8, color='#666', ha='right', va='center',
        family='Liberation Sans')
chain(984, 18, [('Open', '#111', 'bold'), (' 16.41  ', '#333', 'normal'),
                ('High', '#111', 'bold'), (' 17.24  ', '#333', 'normal'),
                ('Low', '#111', 'bold'), (' 15.98  ', '#333', 'normal'),
                ('Last', '#111', 'bold'), (' 16.01  ', '#333', 'normal'),
                ('Chg', '#111', 'bold'), (' +0.23 (+1.46%) \u25b2', '#333', 'normal')],
      size=6.6, family='Liberation Sans', right=True)

chain(21, 29, [('RSI(14) 44.02', '#222', 'normal')])
chain(24, 148, [('$VIX (60 min) 16.01', '#222', 'normal')])
chain(16, 157, [('BB(20,2.0) 15.54 - 16.06 - 16.58', '#9aa0aa', 'normal')])
chain(15, 166, [('\u2014', RED, 'bold'), ('MA(10) 16.10', RED, 'normal')])
chain(15, 175, [('\u2014', GREEN, 'bold'), ('MA(50) 16.61', GREEN, 'normal')])
chain(15, 183.5, [('\u2014', NAVY, 'bold'), ('MA(200) 17.83', NAVY, 'normal')])
chain(15, 498, [('\u2014 ', '#111', 'bold'), ('MACD(12,26,9) -0.136,', '#222', 'normal'),
                (' -0.190,', '#f03030', 'normal'), (' 0.054', '#5aa8d8', 'normal')])
chain(15, 618, [('\u258c ', '#3f7fb0', 'normal'), ('MACD(12,26,9) Hist 0.054', '#222', 'normal')])
chain(15, 737, [('\u2014 ', '#111', 'bold'), ('Full STO %K(14,3) %D(3) 36.18,', '#222', 'normal'),
                (' 47.58', '#f03030', 'normal')])
chain(15, 856, [('\u2014 ', '#111', 'bold'), ('ADX(14) 14.12 +DI 28.76', '#222', 'normal'),
                (' -DI 30.07', '#c0304a', 'normal')])

fig.savefig('out.png', dpi=100, facecolor='white')
